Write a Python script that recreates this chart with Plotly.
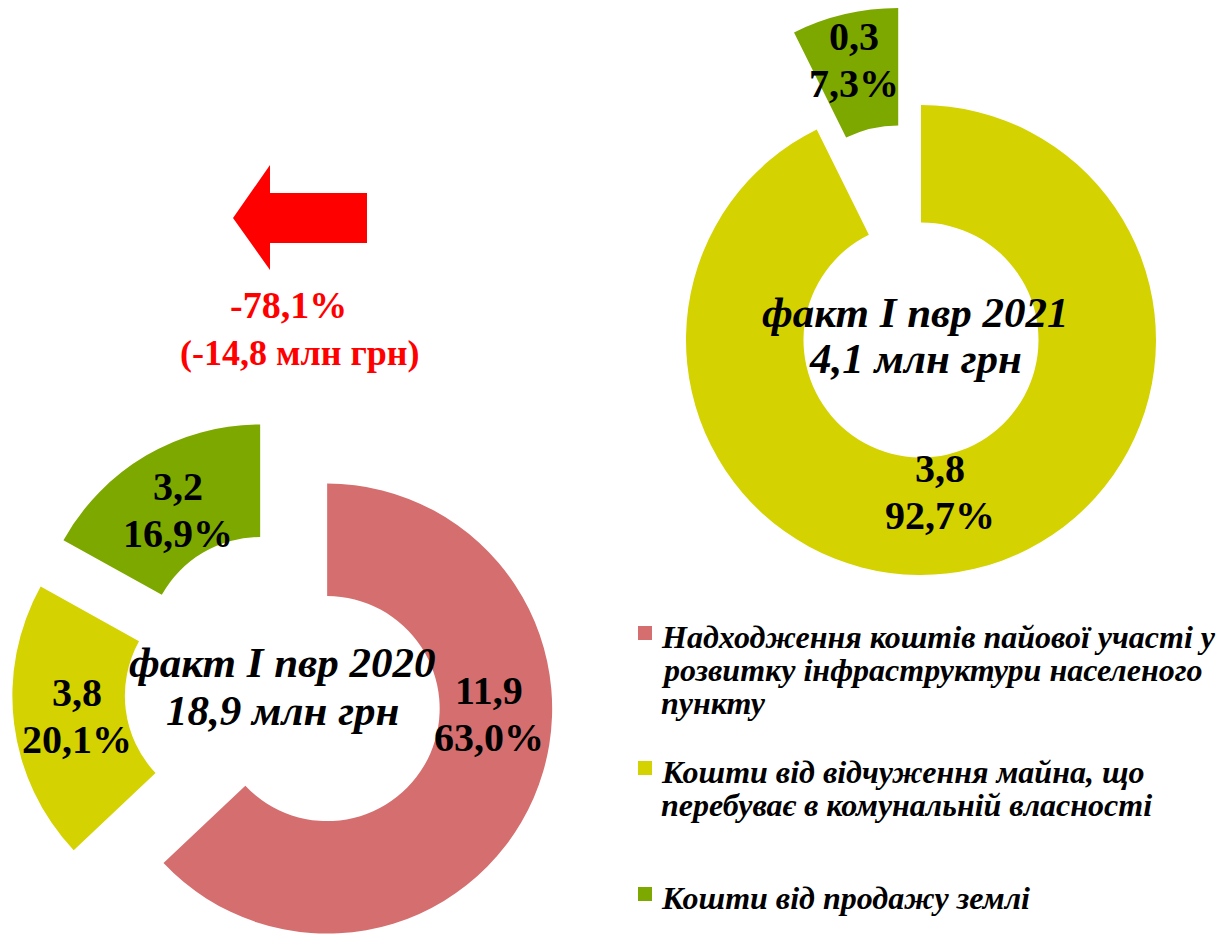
import math
import plotly.graph_objects as go

W, H = 1230, 940
OFF = 8  # page body margin of the exported html

# --- data ---
categories = [
    "Надходження коштів пайової участі у розвитку інфраструктури населеного пункту",
    "Кошти від відчуження майна, що перебуває в комунальній власності",
    "Кошти від продажу землі",
]
values_2020 = [11.9, 3.8, 3.2]
shares_2020 = [63.0, 20.1, 16.9]
values_2021 = [0.0, 3.8, 0.3]
shares_2021 = [0.0, 92.7, 7.3]
total_2020 = 18.9
total_2021 = 4.1
change_pct = -78.1
change_abs = -14.8

legend_lines = [
    ["Надходження коштів пайової участі у", "розвитку інфраструктури населеного", "пункту"],
    ["Кошти від відчуження майна, що", "перебуває в комунальній власності"],
    ["Кошти від продажу землі"],
]

colors = ["#D56E6E", "#D4D200", "#7DA800"]
SERIF = "Liberation Serif, Times New Roman, serif"


def fmt(v):
    return f"{v:.1f}".replace(".", ",")


def px(x):
    return (x - OFF) / W


def py(y):
    return 1 - (y - OFF) / H


fig = go.Figure()
annotations = []


def text_lines(lines, x, yc, step, font, xanchor="center"):
    n = len(lines)
    for k, line in enumerate(lines):
        annotations.append(dict(
            x=px(x), y=py(yc + (k - (n - 1) / 2) * step),
            xref="paper", yref="paper", showarrow=False,
            text=line, font=font, xanchor=xanchor, yanchor="middle",
        ))


def add_donut(values, shares, cx, cy, r, pulls, label_pos):
    total = sum(values)
    start = 0.0
    for i, v in enumerate(values):
        if v == 0:
            continue
        frac = v / total
        mid = math.radians(360 * (start + frac / 2))
        sx = cx + pulls[i] * math.sin(mid)
        sy = cy - pulls[i] * math.cos(mid)
        cols = [colors[j] if j == i else "rgba(0,0,0,0)" for j in range(len(values))]
        fig.add_trace(go.Pie(
            values=values, labels=categories, sort=False,
            direction="clockwise", rotation=0, hole=0.5,
            marker=dict(colors=cols, line=dict(width=0)),
            textinfo="none", showlegend=False, hoverinfo="skip",
            domain=dict(x=[max(0, px(sx - r)), min(1, px(sx + r))],
                        y=[max(0, py(sy + r)), min(1, py(sy - r))]),
        ))
        ang, rf = label_pos.get(i, (math.degrees(mid), 0.72))
        la = math.radians(ang)
        lr = rf * r
        text_lines([fmt(v), f"{fmt(shares[i])}%"],
                   sx + lr * math.sin(la), sy - lr * math.cos(la), 47,
                   dict(family=SERIF, size=40, color="black", weight="bold"))
        start += frac


add_donut(values_2020, shares_2020, 284, 690, 225, [47, 47, 47], {0: (92, 0.72)})
add_donut(values_2021, shares_2021, 921, 340, 235, [0, 0, 100],
          {1: (173, 0.65), 2: (346.4, 0.8)})

# centre captions
cap_font = dict(family=SERIF, size=43, color="black", weight="bold", style="italic")
text_lines([f"факт I пвр 2020", f"{fmt(total_2020)} млн грн"], 282, 686, 48, cap_font)
text_lines([f"факт I пвр 2021", f"{fmt(total_2021)} млн грн"], 915, 335, 46, cap_font)

# change text
annotations.append(dict(
    x=px(288), y=py(305), xref="paper", yref="paper", showarrow=False,
    text=f"{fmt(change_pct)}%", xanchor="center", yanchor="middle",
    font=dict(family=SERIF, size=38, color="#FF0000", weight="bold"),
))
annotations.append(dict(
    x=px(300), y=py(353), xref="paper", yref="paper", showarrow=False,
    text=f"({fmt(change_abs)} млн грн)", xanchor="center", yanchor="middle",
    font=dict(family=SERIF, size=36, color="#FF0000", weight="bold"),
))

# red arrow
arrow = [(233, 218), (270, 165), (270, 193), (367, 193), (367, 243), (270, 243), (270, 270)]
path = "M " + " L ".join(f"{px(x)},{py(y)}" for x, y in arrow) + " Z"
shapes = [dict(type="path", path=path, xref="paper", yref="paper",
               fillcolor="#FF0000", line=dict(width=0))]

# legend
leg_font = dict(family=SERIF, size=32, color="black", weight="bold", style="italic")
entry_top = [637, 772, 898]
for i, lines in enumerate(legend_lines):
    y0 = entry_top[i]
    shapes.append(dict(type="rect", xref="paper", yref="paper",
                       x0=px(638), x1=px(652), y0=py(y0 - 11), y1=py(y0 + 3),
                       fillcolor=colors[i], line=dict(width=0)))
    text_lines(lines, 659, y0 + 33 * (len(lines) - 1) / 2, 33, leg_font, xanchor="left")

fig.update_layout(
    width=W, height=H,
    margin=dict(l=0, r=0, t=0, b=0),
    paper_bgcolor="white", plot_bgcolor="white",
    annotations=annotations, shapes=shapes,
    showlegend=False,
)

fig.write_html("out.html")
